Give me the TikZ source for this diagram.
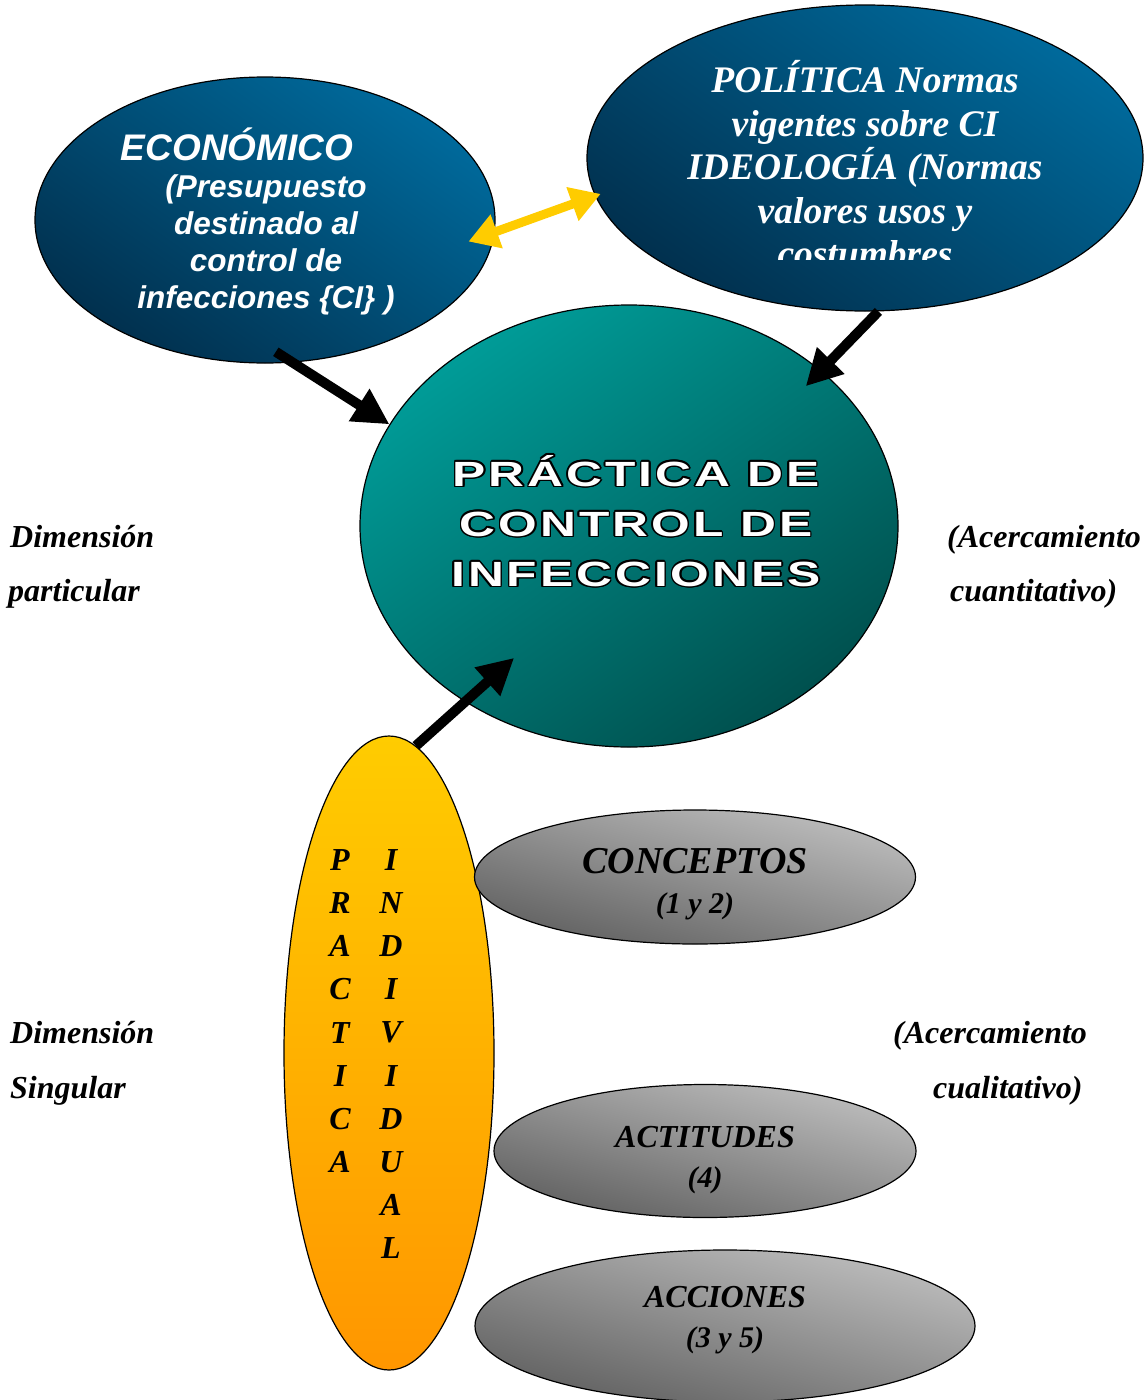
\documentclass[tikz,border=0pt]{standalone}
\usepackage{fontspec}
\setmainfont{Liberation Serif}
\newfontfamily\arialfont{Liberation Sans}
\newfontfamily\widefont[LetterSpace=6]{Liberation Sans}
\usepackage{graphicx}
\usetikzlibrary{arrows.meta, shapes.geometric}

\definecolor{blueTop}{RGB}{0,106,156}
\definecolor{blueBot}{RGB}{1,48,78}
\definecolor{tealTop}{RGB}{0,156,152}
\definecolor{tealBot}{RGB}{0,80,78}
\definecolor{goldTop}{RGB}{255,204,0}
\definecolor{goldBot}{RGB}{255,150,0}
\definecolor{greyTop}{RGB}{190,190,190}
\definecolor{greyBot}{RGB}{96,96,96}
\definecolor{arrowGold}{RGB}{255,204,0}

\newcommand{\stretchline}[1]{\scalebox{1.42}[1]{#1}}
\newcommand{\titlelines}{\stretchline{PRÁCTICA DE}\\\stretchline{CONTROL DE}\\\stretchline{INFECCIONES}}

\begin{document}
\begin{tikzpicture}[x=1pt, y=-1pt,
      blob/.style={draw, ellipse, line width=1.2pt, inner sep=0pt},
      bluezone/.style={blob, top color=blueTop, bottom color=blueBot, shading angle=-35},
      tealzone/.style={blob, top color=tealTop, bottom color=tealBot, shading angle=35},
      goldzone/.style={blob, top color=goldTop, bottom color=goldBot},
      greyzone/.style={blob, top color=greyTop, bottom color=greyBot, shading angle=-15},
      greytxt/.style={align=center, inner sep=0pt, font=\bfseries\itshape\fontsize{32}{40}\selectfont},
      econhead/.style={text=white, inner sep=0pt, font=\arialfont\bfseries\itshape\fontsize{37}{40}\selectfont},
      econbody/.style={text=white, align=center, inner sep=0pt, font=\arialfont\bfseries\itshape\fontsize{31.5}{37}\selectfont},
      polbody/.style={text=white, align=center, inner sep=0pt, font=\bfseries\itshape\fontsize{37.5}{43.5}\selectfont},
      titletxt/.style={align=center, inner sep=0pt, font=\widefont\bfseries\fontsize{35}{50}\selectfont},
      letters/.style={align=center, inner sep=0pt, font=\bfseries\itshape\fontsize{32}{43.1}\selectfont},
      sidenote/.style={anchor=base west, inner sep=0pt, font=\bfseries\itshape\fontsize{32}{32}\selectfont},
      bigarrow/.style={line width=10pt, -{Triangle[length=36pt, width=36pt]}},
      goldarrow/.style={line width=9pt, arrowGold, {Triangle[length=30pt, width=34pt]}-{Triangle[length=30pt, width=34pt]}}
    ]
    \useasboundingbox (0,0) rectangle (1147,1400);

    % Ellipses
    \node[bluezone, minimum width=460pt, minimum height=286pt] (econ) at (265,220) {};
    \node[bluezone, minimum width=556pt, minimum height=306pt] (politica) at (865,158) {};
    \node[tealzone, minimum width=538pt, minimum height=442pt] (practica) at (629,526) {};
    \node[goldzone, minimum width=210pt, minimum height=634pt] (indiv) at (389,1053) {};
    \node[greyzone, minimum width=441pt, minimum height=134pt] (conceptos) at (695,877) {};
    \node[greyzone, minimum width=422pt, minimum height=133pt] (actitudes) at (705,1151) {};
    \node[greyzone, minimum width=500pt, minimum height=152pt] (acciones) at (725,1326) {};

    % Texts
    \node[econhead, anchor=base] (econtitle) at (237,160) {ECONÓMICO};
    \node[econbody] (econtext) at (266,245) {(Presupuesto\\destinado al\\control de\\infecciones \{CI\} )};
    \begin{scope}
      \clip (580,0) rectangle (1147,259);
      \node[polbody] (poltext) at (865,164) {POLÍTICA Normas\\vigentes sobre CI\\IDEOLOGÍA (Normas\\valores usos y\\costumbres};
    \end{scope}
    \foreach \ang in {0,30,...,330}
      \node[titletxt, text=black, shift={(\ang:1.6)}] (rim\ang) at (636,521) {\titlelines};
    \node[titletxt, text=white] (title) at (636,521) {\titlelines};
    \node[letters] (practicaword) at (340,1011) {P\\R\\A\\C\\T\\I\\C\\A};
    \node[letters] (individualword) at (391,1054) {I\\N\\D\\I\\V\\I\\D\\U\\A\\L};

    \node[greytxt] (conceptostxt) at (695,884) {\fontsize{38}{40}\selectfont CONCEPTOS\\\fontsize{30}{40}\selectfont(1 y 2)};
    \node[greytxt] (actitudestxt) at (705,1160) {ACTITUDES\\\fontsize{30}{42}\selectfont(4)};
    \node[greytxt] (accionestxt) at (725,1320) {ACCIONES\\\fontsize{30}{38}\selectfont(3 y 5)};

    \node[sidenote] (dimpart) at (10,547) {Dimensión};
    \node[sidenote] (partic) at (8,601) {particular};
    \node[sidenote] (acerca1) at (947,547) {(Acercamiento};
    \node[sidenote] (cuanti) at (950,601) {cuantitativo)};
    \node[sidenote] (dimsing) at (10,1043) {Dimensión};
    \node[sidenote] (singul) at (10,1098) {Singular};
    \node[sidenote] (acerca2) at (893,1043) {(Acercamiento};
    \node[sidenote] (cuali) at (933,1098) {cualitativo)};

    % Arrows
    \draw[bigarrow, shorten <=-20pt] (econ.281) -- (practica.157);
    \draw[bigarrow, shorten >=-22pt] (politica.275) -- (practica.39);
    \draw[bigarrow, shorten >=-66pt] (indiv.85) -- (practica.227);
    \draw[goldarrow, shorten <=-28pt, shorten >=-6pt] (econ.357) -- (politica.188);

\end{tikzpicture}
\end{document}
